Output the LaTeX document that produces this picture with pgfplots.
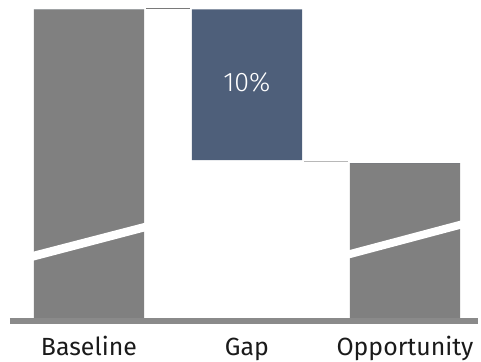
\documentclass[border=0pt]{standalone}
\usepackage{pgfplots}
\pgfplotsset{compat=1.18}
\usepackage{fontspec}
\setmainfont{Fira Sans}
\newfontfamily\lightfont{Fira Sans Light}
\definecolor{bargray}{HTML}{808080}
\definecolor{gapblue}{HTML}{4E5F7A}
\definecolor{axisgray}{HTML}{8A8A8A}
\definecolor{connA}{HTML}{7A7A7A}
\definecolor{connB}{HTML}{B8B8B8}
\definecolor{textdark}{HTML}{1A1A1A}
\begin{document}
\begin{tikzpicture}
\begin{axis}[
  scale only axis, width=481bp, height=322bp,
  xmin=0, xmax=481, ymin=0, ymax=322,
  clip=false,
  axis line style={draw=none},
  ytick=\empty,
  xtick={89.5,248.5,407.5},
  xticklabels={Baseline,Gap,Opportunity},
  major tick length=0pt,
  xticklabel style={anchor=base, yshift=-36bp, inner sep=0pt,
    font=\fontsize{25bp}{30bp}\selectfont, text=textdark},
]
% bars (stacked so that the Gap bar floats)
\addplot[ybar, bar width=111, bar shift=0pt, stack plots=y, fill=bargray, draw=none]
  coordinates {(89.5,312.7) (248.5,0) (407.5,158)};
\addplot[ybar, bar width=111, bar shift=0pt, stack plots=y, fill=none, draw=none]
  coordinates {(89.5,0) (248.5,161) (407.5,0)};
\addplot[ybar, bar width=111, bar shift=0pt, stack plots=y, fill=gapblue, draw=none]
  coordinates {(89.5,0) (248.5,151.7) (407.5,0)};
% white break stripes
\addplot[fill=white, draw=none, stack plots=false] coordinates {(33,59.7) (146,89.3) (146,98) (33,68.7)} -- cycle;
\addplot[fill=white, draw=none, stack plots=false] coordinates {(351,62) (464,92) (464,100.3) (351,70.3)} -- cycle;
% connectors
\addplot[draw=connA, line width=1.1bp, stack plots=false] coordinates {(147.3,313.7) (191,313.7)};
\addplot[draw=connB, line width=1.3bp, stack plots=false] coordinates {(306,159.3) (350,159.3)};
% baseline axis line
\addplot[draw=axisgray, line width=6bp, stack plots=false] coordinates {(10,-1) (481,-1)};
% value label
\node[text=white, font=\lightfont\fontsize{27bp}{30bp}\selectfont, inner sep=0pt] at (axis cs:248.5,239) {10\%};
\end{axis}
\end{tikzpicture}
\end{document}
